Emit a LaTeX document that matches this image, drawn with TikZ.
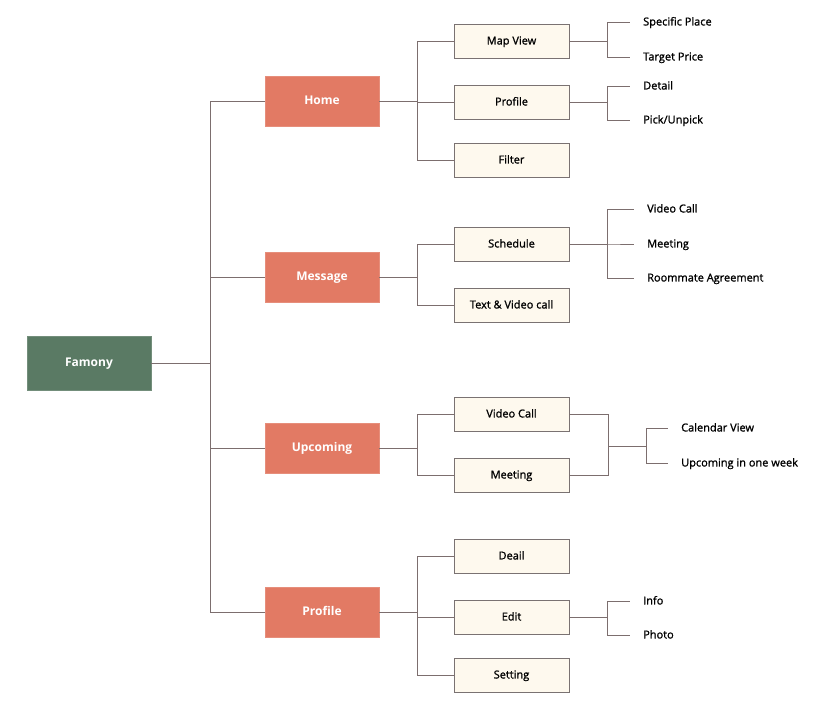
\documentclass[tikz,border=0pt]{standalone}
\usepackage{fontspec}
\setmainfont{Open Sans}
\newfontfamily\semib{Open Sans}[FakeBold=1.2]
\usepackage{tikz}
\definecolor{rootgreen}{RGB}{90,122,100}
\definecolor{pagered}{RGB}{226,122,100}
\definecolor{creamfill}{RGB}{254,249,238}
\definecolor{boxline}{RGB}{122,114,114}
\definecolor{wire}{RGB}{124,110,110}
\tikzset{
	rootbox/.style={fill=rootgreen, draw=rootgreen!85!white, minimum width=124pt, minimum height=54pt, text=white, text height=1.6ex, text depth=0.3ex, font=\fontsize{12}{14}\selectfont\bfseries},
	pagebox/.style={fill=pagered, draw=pagered!85!white, minimum width=114pt, minimum height=50pt, text=white, text height=1.6ex, text depth=0.3ex, font=\fontsize{12}{14}\selectfont\bfseries},
	featbox/.style={fill=creamfill, draw=boxline, line width=0.9pt, minimum width=115pt, minimum height=34pt, text height=1.6ex, text depth=0.3ex, font=\fontsize{11}{12}\selectfont\semib},
	leaf/.style={anchor=west, inner xsep=13pt, text height=1.6ex, text depth=0.3ex, font=\fontsize{11}{12}\selectfont\semib},
	conn/.style={draw=wire, line width=0.8pt}
}
\begin{document}
\begin{tikzpicture}[x=1pt, y=-1pt]
	\useasboundingbox (0,0) rectangle (837,708);
	% root and pages
	\node[rootbox] (famony) at (89,363) {Famony};
	\node[pagebox] (home) at (322,101) {Home};
	\node[pagebox] (message) at (322,277) {Message};
	\node[pagebox] (upcoming) at (322,448) {Upcoming};
	\node[pagebox] (profile) at (322,612) {Profile};
	% features
	\node[featbox] (mapview) at (511.5,41) {Map View};
	\node[featbox] (homeprofile) at (511.5,102) {Profile};
	\node[featbox] (filter) at (511.5,160) {Filter};
	\node[featbox] (schedule) at (511.5,244) {Schedule};
	\node[featbox] (textcall) at (511.5,305) {Text \& Video call};
	\node[featbox] (upvideo) at (511.5,414) {Video Call};
	\node[featbox] (upmeeting) at (511.5,475) {Meeting};
	\node[featbox] (deail) at (511.5,556) {Deail};
	\node[featbox] (edit) at (511.5,617) {Edit};
	\node[featbox] (setting) at (511.5,675) {Setting};
	% leaves
	\node[leaf] (place) at (630,22) {Specific Place};
	\node[leaf] (price) at (630,57) {Target Price};
	\node[leaf] (detail) at (630,86) {Detail};
	\node[leaf] (pick) at (630,120) {Pick/Unpick};
	\node[leaf] (vcall) at (634,209) {Video Call};
	\node[leaf] (meet) at (634,244) {Meeting};
	\node[leaf] (agree) at (634,278) {Roommate Agreement};
	\node[leaf] (calview) at (668,428) {Calendar View};
	\node[leaf] (oneweek) at (668,463) {Upcoming in one week};
	\node[leaf] (info) at (630,601) {Info};
	\node[leaf] (photo) at (630,635) {Photo};
	% bus points
	\coordinate (trunk) at (210,363);
	\coordinate (homebus) at (417,101);
	\coordinate (msgbus) at (417,277);
	\coordinate (upbus) at (417,448);
	\coordinate (profbus) at (417,612);
	\coordinate (mapbus) at (607,41);
	\coordinate (detbus) at (607,102);
	\coordinate (schbus) at (607,244);
	\coordinate (joinbus) at (608,446);
	\coordinate (calbus) at (646,446);
	\coordinate (editbus) at (607,617);
	% root to pages
	\draw[conn] (famony.east) -- (trunk);
	\foreach \p in {home,message,upcoming,profile}
		\draw[conn] (trunk) |- (\p.west);
	% pages to features
	\foreach \f in {mapview,homeprofile,filter}
		\draw[conn] (home.east) -- (homebus) |- (\f.west);
	\foreach \f in {schedule,textcall}
		\draw[conn] (message.east) -- (msgbus) |- (\f.west);
	\foreach \f in {upvideo,upmeeting}
		\draw[conn] (upcoming.east) -- (upbus) |- (\f.west);
	\foreach \f in {deail,edit,setting}
		\draw[conn] (profile.east) -- (profbus) |- (\f.west);
	% features to leaves
	\foreach \l in {place,price}
		\draw[conn] (mapview.east) -- (mapbus) |- (\l.west);
	\foreach \l in {detail,pick}
		\draw[conn] (homeprofile.east) -- (detbus) |- (\l.west);
	\foreach \l in {vcall,meet,agree}
		\draw[conn] (schedule.east) -- (schbus) |- (\l.west);
	\foreach \f in {upvideo,upmeeting}
		\draw[conn] (\f.east) -| (joinbus);
	\draw[conn] (joinbus) -- (calbus);
	\foreach \l in {calview,oneweek}
		\draw[conn] (calbus) |- (\l.west);
	\foreach \l in {info,photo}
		\draw[conn] (edit.east) -- (editbus) |- (\l.west);
\end{tikzpicture}
\end{document}
